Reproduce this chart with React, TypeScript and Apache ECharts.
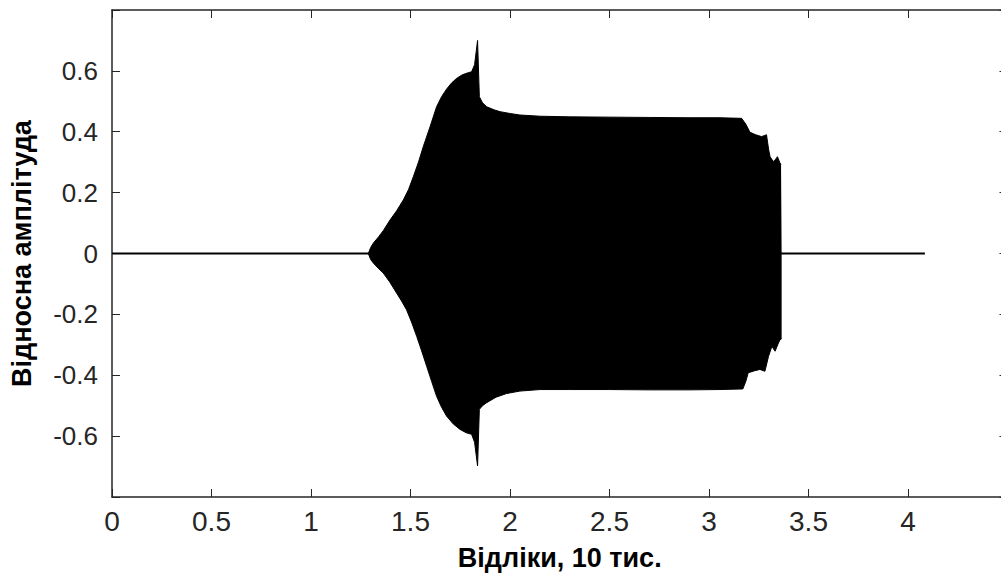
import React, { useEffect, useRef } from "react";
import * as echarts from "echarts";

// Envelope of the signal (x in units of 10 thousand samples)
const upperX = [1.288, 1.3, 1.313, 1.34, 1.363, 1.397, 1.43, 1.464, 1.49, 1.514, 1.54, 1.564, 1.598, 1.631, 1.656, 1.681, 1.706, 1.731, 1.76, 1.79, 1.807, 1.822, 1.837, 1.846, 1.862, 1.883, 1.92, 1.95, 2.0, 2.05, 2.151, 2.3, 2.5, 2.7, 2.9, 3.05, 3.164, 3.185, 3.206, 3.235, 3.264, 3.28, 3.289, 3.3, 3.307, 3.323, 3.335, 3.344, 3.355, 3.362, 3.365];
const upperAmp = [0.0, 0.02, 0.034, 0.055, 0.075, 0.11, 0.14, 0.176, 0.21, 0.252, 0.3, 0.351, 0.416, 0.482, 0.515, 0.54, 0.56, 0.575, 0.587, 0.594, 0.597, 0.62, 0.70, 0.515, 0.495, 0.482, 0.472, 0.466, 0.46, 0.455, 0.451, 0.449, 0.448, 0.447, 0.446, 0.446, 0.444, 0.425, 0.398, 0.39, 0.384, 0.388, 0.39, 0.34, 0.318, 0.302, 0.31, 0.318, 0.3, 0.291, 0.29];

const lowerX = [1.288, 1.3, 1.313, 1.34, 1.363, 1.397, 1.43, 1.455, 1.48, 1.505, 1.531, 1.556, 1.581, 1.606, 1.631, 1.656, 1.681, 1.715, 1.749, 1.78, 1.807, 1.822, 1.837, 1.846, 1.862, 1.883, 1.93, 1.983, 2.05, 2.151, 2.3, 2.5, 2.7, 2.9, 3.05, 3.17, 3.185, 3.197, 3.23, 3.256, 3.281, 3.299, 3.316, 3.332, 3.349, 3.357, 3.365];
const lowerAmp = [0.0, -0.02, -0.031, -0.05, -0.064, -0.095, -0.13, -0.156, -0.185, -0.225, -0.272, -0.32, -0.37, -0.42, -0.469, -0.505, -0.534, -0.56, -0.578, -0.589, -0.594, -0.62, -0.698, -0.512, -0.5, -0.49, -0.472, -0.46, -0.452, -0.447, -0.447, -0.447, -0.448, -0.448, -0.447, -0.445, -0.42, -0.392, -0.385, -0.381, -0.387, -0.338, -0.305, -0.321, -0.294, -0.283, -0.28];

// Silent baseline (zero signal)
const baselineX = [0, 4.085];
const baselineY = [0, 0];

const xTicks = [0, 0.5, 1, 1.5, 2, 2.5, 3, 3.5, 4];
const yTicks = [-0.6, -0.4, -0.2, 0, 0.2, 0.4, 0.6];

const xTitle = "Відліки, 10 тис.";
const yTitle = "Відносна амплітуда";

const FONT = "Arial, 'Liberation Sans', sans-serif";
const AX = "#262626";

export default function App() {
  const ref = useRef<HTMLDivElement | null>(null);

  useEffect(() => {
    if (!ref.current) return;
    const chart = echarts.init(ref.current, undefined, { renderer: "svg" });

    const upper = upperX.map((x, i) => [x, upperAmp[i]]);
    const lower = lowerX.map((x, i) => [x, lowerAmp[i]]);
    const base = baselineX.map((x, i) => [x, baselineY[i]]);

    const xLabelFmt = (v: number) =>
      xTicks.some((t) => Math.abs(t - v) < 1e-9) ? String(v) : "";
    const yLabelFmt = (v: number) =>
      yTicks.some((t) => Math.abs(t - v) < 1e-9) ? String(Math.round(v * 10) / 10) : "";

    const lineStyle = { color: AX, width: 1.5 };
    const tickStyle = { color: AX, width: 1 };

    chart.setOption({
      animation: false,
      backgroundColor: "#ffffff",
      grid: {
        left: 112,
        right: 0.5,
        top: 10,
        bottom: 79,
        containLabel: false,
        outerBoundsMode: "none",
      },
      xAxis: [
        {
          type: "value",
          min: 0,
          max: 4.5,
          interval: 0.5,
          position: "bottom",
          axisLine: { show: true, onZero: false, lineStyle },
          axisTick: { show: true, inside: true, length: 8, lineStyle: tickStyle },
          axisLabel: {
            show: true,
            margin: 10,
            fontSize: 28,
            fontFamily: FONT,
            color: AX,
            formatter: xLabelFmt,
            showMaxLabel: false,
          },
          splitLine: { show: false },
          name: xTitle,
          nameLocation: "middle",
          nameGap: 47,
          nameTextStyle: { fontSize: 27, fontWeight: "bold", fontFamily: FONT, color: "#000" },
        },
        {
          type: "value",
          min: 0,
          max: 4.5,
          interval: 0.5,
          position: "top",
          axisLine: { show: true, onZero: false, lineStyle },
          axisTick: { show: true, inside: true, length: 8, lineStyle: tickStyle },
          axisLabel: { show: false },
          splitLine: { show: false },
        },
      ],
      yAxis: [
        {
          type: "value",
          min: -0.8,
          max: 0.8,
          interval: 0.2,
          position: "left",
          axisLine: { show: true, onZero: false, lineStyle },
          axisTick: { show: true, inside: true, length: 8, lineStyle: tickStyle },
          axisLabel: {
            show: true,
            margin: 14,
            fontSize: 26,
            fontFamily: FONT,
            color: AX,
            formatter: yLabelFmt,
          },
          splitLine: { show: false },
          name: yTitle,
          nameLocation: "middle",
          nameRotate: 90,
          nameGap: 77,
          nameTextStyle: { fontSize: 27, fontWeight: "bold", fontFamily: FONT, color: "#000" },
        },
        {
          type: "value",
          min: -0.8,
          max: 0.8,
          interval: 0.2,
          position: "right",
          axisLine: { show: true, onZero: false, lineStyle },
          axisTick: { show: true, inside: true, length: 8, lineStyle: tickStyle },
          axisLabel: { show: false },
          splitLine: { show: false },
        },
      ],
      series: [
        {
          type: "line",
          name: "baseline",
          data: base,
          showSymbol: false,
          symbol: "none",
          lineStyle: { color: "#000", width: 2 },
          z: 2,
        },
        {
          type: "line",
          name: "upper",
          data: upper,
          showSymbol: false,
          symbol: "none",
          lineStyle: { color: "#000", width: 1 },
          areaStyle: { color: "#000", opacity: 1, origin: 0 },
          z: 3,
        },
        {
          type: "line",
          name: "lower",
          data: lower,
          showSymbol: false,
          symbol: "none",
          lineStyle: { color: "#000", width: 1 },
          areaStyle: { color: "#000", opacity: 1, origin: 0 },
          z: 3,
        },
      ],
    });

    return () => {
      chart.dispose();
    };
  }, []);

  return (
    <div
      style={{
        position: "absolute",
        left: 0,
        top: 0,
        width: 1001,
        height: 576,
        overflow: "hidden",
        background: "#fff",
      }}
    >
      <div ref={ref} style={{ width: 1008, height: 576 }} />
    </div>
  );
}
